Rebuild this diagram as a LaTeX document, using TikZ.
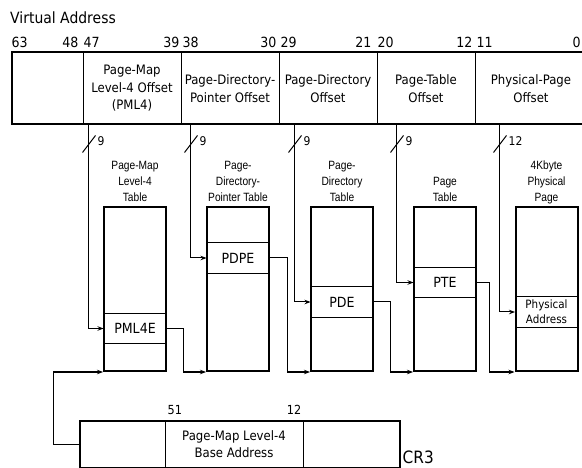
\documentclass[tikz,border=0pt]{standalone}
\usepackage{fontspec}
\setmainfont{DejaVu Sans}[FakeStretch=0.9]
\newfontfamily\narrowfont{Liberation Sans}[FakeStretch=0.85]
\usetikzlibrary{positioning, arrows.meta, calc}
\tikzset{
  regfield/.style={draw, line width=1pt, inner sep=0pt, minimum height=71pt, align=center, font=\fontsize{13}{17.5}\selectfont},
  bitnum/.style={inner sep=0pt, font=\fontsize{14}{16}\selectfont},
  pgtable/.style={draw, line width=2pt, minimum width=62pt, minimum height=164pt, inner sep=0pt},
  pgentry/.style={draw, line width=1pt, minimum width=62pt, minimum height=30.5pt, inner sep=0pt, align=center, font=\fontsize{14}{16}\selectfont},
  tabtitle/.style={inner sep=0pt, align=center, text depth=0pt, font=\narrowfont\fontsize{12}{16}\selectfont},
  wire/.style={-{Stealth[length=6pt, width=4.5pt]}, line width=1pt},
  slashmark/.style={line width=1pt}
}

\begin{document}
\begin{tikzpicture}[x=1pt, y=-1pt]
    \useasboundingbox (0,0) rectangle (582,468);
    \clip (0,0) rectangle (582,468);
    \node[bitnum, anchor=base west, font=\fontsize{15.5}{17}\selectfont] (va) at (10,24) {Virtual Address};
    %% virtual address fields
    \node[regfield, minimum width=71pt]  (fsign) at (47.5,88.5) {};
    \node[regfield, minimum width=98pt]  (fpml4) at (132,88.5)  {Page-Map\\Level-4 Offset\\(PML4)};
    \node[regfield, minimum width=98pt]  (fpdp)  at (230,88.5)  {Page-Directory-\\Pointer Offset};
    \node[regfield, minimum width=98pt]  (fpd)   at (328,88.5)  {Page-Directory\\Offset};
    \node[regfield, minimum width=98pt]  (fpt)   at (426,88.5)  {Page-Table\\Offset};
    \node[regfield, minimum width=112pt] (fphys) at (531,88.5)  {Physical-Page\\Offset};
    \draw[line width=2pt] (fsign.north west) rectangle (fphys.south east);
    \node[bitnum, anchor=base west] (b63) at ($(fsign.north west)+(0,-5)$)  {63};
    \node[bitnum, anchor=base east] (b48) at ($(fsign.north east)+(-5,-5)$) {48};
    \node[bitnum, anchor=base west] (b47) at ($(fpml4.north west)+(1,-5)$)  {47};
    \node[bitnum, anchor=base east] (b39) at ($(fpml4.north east)+(-2,-5)$) {39};
    \node[bitnum, anchor=base west] (b38) at ($(fpdp.north west)+(2,-5)$)   {38};
    \node[bitnum, anchor=base east] (b30) at ($(fpdp.north east)+(-3,-5)$)  {30};
    \node[bitnum, anchor=base west] (b29) at ($(fpd.north west)+(2,-5)$)    {29};
    \node[bitnum, anchor=base east] (b21) at ($(fpd.north east)+(-6,-5)$)   {21};
    \node[bitnum, anchor=base west] (b20) at ($(fpt.north west)+(1,-5)$)    {20};
    \node[bitnum, anchor=base east] (b12) at ($(fpt.north east)+(-3,-5)$)   {12};
    \node[bitnum, anchor=base west] (b11) at ($(fphys.north west)+(2,-5)$)  {11};
    \node[bitnum, anchor=base west] (b0)  at ($(fphys.north west)+(98,-5)$) {0};
    %% tables
    \node[pgtable] (t1) at (135,289) {};
    \node[pgtable] (t2) at (238,289) {};
    \node[pgtable] (t3) at (342,289) {};
    \node[pgtable] (t4) at (445,289) {};
    \node[pgtable] (t5) at (546.5,289) {};
    \node[pgentry] (e1) at (135,328.5) {PML4E};
    \node[pgentry] (e2) at (238,258)   {PDPE};
    \node[pgentry] (e3) at (342,302)   {PDE};
    \node[pgentry] (e4) at (445,282.5) {PTE};
    \node[pgentry, font=\fontsize{11.5}{15}\selectfont] (e5) at (546.5,312) {Physical\\Address};
    \node[tabtitle, above=4pt of t1] (h1) {Page-Map\\Level-4\\Table};
    \node[tabtitle, above=4pt of t2] (h2) {Page-\\Directory-\\Pointer Table};
    \node[tabtitle, above=4pt of t3] (h3) {Page-\\Directory\\Table};
    \node[tabtitle, above=4pt of t4] (h4) {Page\\Table};
    \node[tabtitle, above=4pt of t5] (h5) {4Kbyte\\Physical\\Page};
    %% index bits into each table
    \coordinate (s1) at ($(fpml4.south west)+(6,0)$);
    \coordinate (s2) at ($(fpdp.south west)+(10,0)$);
    \coordinate (s3) at ($(fpd.south west)+(16,0)$);
    \coordinate (s4) at ($(fpt.south west)+(20,0)$);
    \coordinate (s5) at ($(fphys.south west)+(25,0)$);
    \draw[wire] (s1) |- (e1.west);
    \draw[wire] (s2) |- (e2.west);
    \draw[wire] (s3) |- (e3.west);
    \draw[wire] (s4) |- (e4.west);
    \draw[wire] (s5) |- (e5.west);
    \foreach \s/\n in {s1/9, s2/9, s3/9, s4/9, s5/12} {
      \draw[slashmark] ($(\s)+(-6,28)$) -- ($(\s)+(7,11)$);
      \node[anchor=west, inner sep=0pt, font=\fontsize{12}{14}\selectfont] at ($(\s)+(9,17)$) {\n};
    }
    %% entry -> base of next table
    \draw[wire] (e1.east) -- ++(17,0) |- (t2.south west);
    \draw[wire] (e2.east) -- ++(18,0) |- (t3.south west);
    \draw[wire] (e3.east) -- ++(17,0) |- (t4.south west);
    \draw[wire] (e4.east) -- ++(13,0) |- (t5.south west);
    %% CR3
    \node[regfield, minimum width=85pt, minimum height=46pt]  (c1) at (122.5,444) {};
    \node[regfield, minimum width=138pt, minimum height=46pt] (c2) at (234,444)   {Page-Map Level-4\\Base Address};
    \node[regfield, minimum width=96pt, minimum height=46pt]  (c3) at (351,444)   {};
    \draw[line width=2pt] (c1.north west) rectangle (c3.south east);
    \node[bitnum, anchor=base west, font=\fontsize{12.5}{14}\selectfont] (b51)  at ($(c2.north west)+(3,-6)$)  {51};
    \node[bitnum, anchor=base east, font=\fontsize{12.5}{14}\selectfont] (b12c) at ($(c3.north west)+(-1,-6)$) {12};
    \node[bitnum, anchor=base west, font=\fontsize{17}{18}\selectfont] (cr3) at ($(c3.south east)+(3,-4)$) {CR3};
    \draw[wire] (c1.west) -- ++(-26,0) |- (t1.south west);
  \end{tikzpicture}
\end{document}
